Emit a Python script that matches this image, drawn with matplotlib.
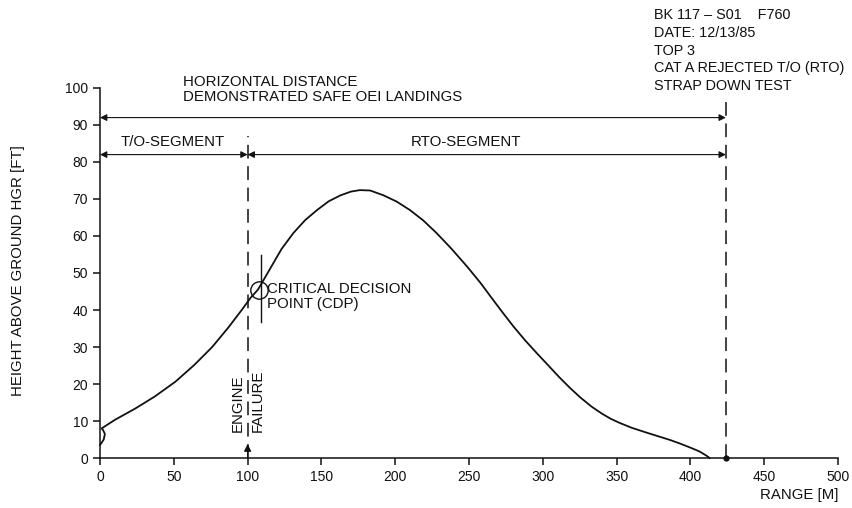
import matplotlib
matplotlib.use("Agg")
import matplotlib.pyplot as plt

plt.rcParams['font.family'] = ['Liberation Sans', 'DejaVu Sans']

# Data
range_m = [0, 2.5, 3.3, 2.0, 1.1, 10, 24, 37, 51, 64, 76, 87, 96, 102, 107,
           115, 123, 131, 139, 147, 155, 163, 170, 176, 183, 192, 201, 210,
           219, 228, 238, 249, 258, 266, 273, 280, 288, 296, 304, 311, 318,
           325, 333, 340, 346, 352, 360, 370, 378, 386, 393, 400, 406, 411,
           413]
height_ft = [3.5, 5.0, 6.5, 7.6, 8.0, 10.3, 13.4, 16.6, 20.6, 25.2, 30.0,
             35.3, 40.0, 43.3, 45.5, 51.0, 56.5, 60.8, 64.3, 67.0, 69.4,
             71.0, 72.0, 72.4, 72.3, 71.0, 69.3, 67.0, 64.2, 60.8, 56.6,
             51.6, 47.2, 42.9, 39.2, 35.6, 31.8, 28.3, 24.9, 21.9, 19.1,
             16.5, 13.9, 12.0, 10.6, 9.5, 8.2, 6.9, 5.9, 4.9, 3.9, 2.8, 1.8,
             0.6, 0]
x_ticks = [0, 50, 100, 150, 200, 250, 300, 350, 400, 450, 500]
y_ticks = [0, 10, 20, 30, 40, 50, 60, 70, 80, 90, 100]

engine_failure_x = 100
rto_end_x = 424
cdp_x, cdp_y = 107.5, 45.3

info_lines = ["BK 117 \u2013 S01    F760", "DATE: 12/13/85", "TOP 3",
              "CAT A REJECTED T/O (RTO)", "STRAP DOWN TEST"]

col = '#111111'
fs = 10.8
tfs = 10.0

fig = plt.figure(figsize=(8.52, 5.08), dpi=100)
ax = fig.add_axes([0.1174, 0.0984, 0.8662, 0.7284])
ax.set_xlim(0, 500)
ax.set_ylim(0, 100)
for s in ['top', 'right']:
    ax.spines[s].set_visible(False)
for s in ['left', 'bottom']:
    ax.spines[s].set_linewidth(1.1)
    ax.spines[s].set_color(col)
ax.set_xticks(x_ticks)
ax.set_yticks(y_ticks)
ax.tick_params(direction='out', length=5, width=1.1, colors=col,
               labelsize=tfs)

# main curve
ax.plot(range_m, height_ft, color=col, lw=1.3, clip_on=False)

# dashed verticals
ax.plot([engine_failure_x, engine_failure_x], [0, 87], color=col, lw=1.1,
        ls=(0, (9, 5)))
ax.plot([rto_end_x, rto_end_x], [0, 98], color=col, lw=1.1, ls=(0, (9, 5)),
        clip_on=False)

# arrows
ap = dict(arrowstyle='<|-|>', color=col, lw=0.8, shrinkA=0, shrinkB=0,
          mutation_scale=10)
ax.annotate('', xy=(0, 92), xytext=(rto_end_x, 92), arrowprops=ap,
            annotation_clip=False)
ax.annotate('', xy=(0, 82), xytext=(engine_failure_x, 82), arrowprops=ap,
            annotation_clip=False)
ax.annotate('', xy=(engine_failure_x, 82), xytext=(rto_end_x, 82),
            arrowprops=ap, annotation_clip=False)

# engine failure arrow at bottom (points up)
ax.annotate('', xy=(engine_failure_x, 3.8), xytext=(engine_failure_x, 0),
            arrowprops=dict(arrowstyle='-|>', color=col, lw=0.8,
                            mutation_scale=11, shrinkA=0, shrinkB=0),
            annotation_clip=False)
ax.plot([rto_end_x], [0], marker='o', ms=3.5, color=col, clip_on=False)

# CDP
ax.plot([cdp_x], [cdp_y], marker='o', ms=12.5, mfc='none', mec=col, mew=1.0)
ax.plot([cdp_x + 1.5, cdp_x + 1.5], [36.8, 54.8], color=col, lw=1.0)

# texts
ax.text(56, 99.5, "HORIZONTAL DISTANCE\nDEMONSTRATED SAFE OEI LANDINGS",
        ha='left', va='center', fontsize=fs, color=col, linespacing=1.1,
        clip_on=False)
ax.text(49, 85.4, "T/O-SEGMENT", ha='center', va='center', fontsize=fs,
        color=col)
ax.text(248, 85.4, "RTO-SEGMENT", ha='center', va='center', fontsize=fs,
        color=col)
ax.text(113, 43.6, "CRITICAL DECISION\nPOINT (CDP)", ha='left', va='center',
        fontsize=fs, color=col, linespacing=1.1)
ax.text(93.5, 7.0, "ENGINE", rotation=90, ha='center', va='bottom',
        fontsize=fs, color=col)
ax.text(107, 7.0, "FAILURE", rotation=90, ha='center', va='bottom',
        fontsize=fs, color=col)

for i, line in enumerate(info_lines):
    fig.text(654 / 852, 1 - (15 + 17.8 * i) / 508, line, ha='left',
             va='center', fontsize=10.4, color=col)

fig.text(18 / 852, 1 - 271 / 508, "HEIGHT ABOVE GROUND HGR [FT]",
         rotation=90, ha='center', va='center', fontsize=fs, color=col)
fig.text(838 / 852, 1 - 495 / 508, "RANGE [M]", ha='right', va='center',
         fontsize=fs, color=col)

fig.savefig('out.png', dpi=100, facecolor='white')
